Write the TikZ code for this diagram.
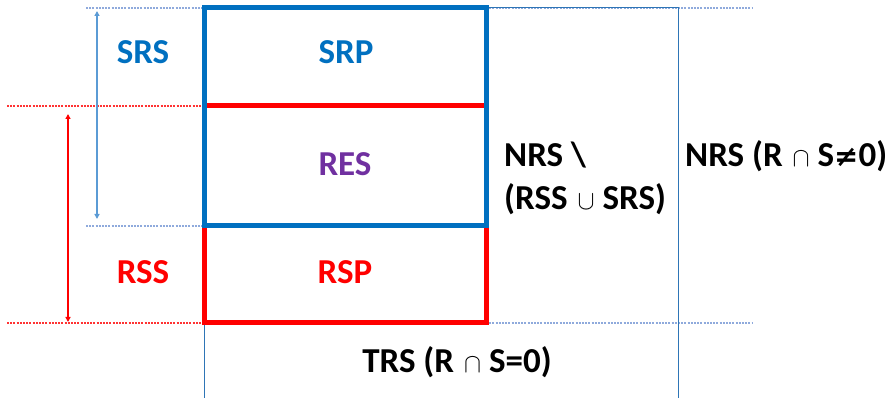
\documentclass[tikz,border=0pt]{standalone}
\usepackage{fontspec}
\usepackage{graphicx}
\setmainfont{Carlito}
\newfontfamily\symf{DejaVu Sans}
\usetikzlibrary{arrows.meta}
\definecolor{cblue}{HTML}{0070C0}
\definecolor{cred}{HTML}{FF0000}
\definecolor{cpurple}{HTML}{7030A0}
\definecolor{lblue}{HTML}{5B9BD5}
\definecolor{dblue}{HTML}{8FAADC}
\definecolor{fblue}{HTML}{2E75B6}
\newcommand{\mycap}{\hspace{10pt}\resizebox{17pt}{15pt}{$\cap$}\hspace{8pt}}
\newcommand{\mycup}{\hspace{10pt}\resizebox{17pt}{15pt}{$\cup$}\hspace{8pt}}
\tikzset{
  thickbox/.style={line width=5pt},
  frame/.style={draw=fblue,line width=1pt},
  bdot/.style={draw=dblue,line width=1.4pt,dash pattern=on 2pt off 1.2pt},
  rdot/.style={draw=cred!80,line width=1.2pt,dash pattern=on 2pt off 1.2pt},
  dimarrow/.style={line width=1.4pt,{Triangle[length=5pt,width=5pt]}-{Triangle[length=5pt,width=5pt]}},
  lbl/.style={anchor=base,font=\bfseries\fontsize{35}{38}\selectfont,inner sep=0pt},
  lbll/.style={anchor=base west,font=\bfseries\fontsize{35}{38}\selectfont,inner sep=0pt}
}
\begin{document}
\begin{tikzpicture}[x=1pt,y=-1pt]
\useasboundingbox (0,0) rectangle (895,398);
% coordinates
\coordinate (TL) at (204,8);
\coordinate (TR) at (486,8);
\coordinate (ML) at (204,106);
\coordinate (MR) at (486,106);
\coordinate (BL) at (204,226);
\coordinate (BR) at (486,226);
\coordinate (RL) at (204,323);
\coordinate (RR) at (486,323);
\coordinate (FTR) at (678,8);
\coordinate (FBR) at (678,400);
\coordinate (FBL) at (204,400);
% dotted guide lines
\coordinate (d1) at (86,8);
\coordinate (d2) at (752,8);
\coordinate (d3) at (7,106);
\coordinate (d4) at (86,226);
\coordinate (d5) at (7,323);
\coordinate (d6) at (752,323);
\draw[bdot] (d1) -- (TL);
\draw[bdot] (TR) -- (d2);
\draw[rdot] (d3) -- (ML);
\draw[bdot] (d4) -- (BL);
\draw[rdot] (d5) -- (RL);
\draw[bdot] (RR) -- (d6);
% thin frame
\draw[frame] (FBL) -- (RL);
\draw[frame] (TR) -- (FTR) -- (FBR);
% thick boxes
\draw[thickbox,draw=cred] (BL) -- (RL) -- (RR) -- (BR);
\draw[thickbox,draw=cred] (ML) -- (MR);
\draw[thickbox,draw=cblue] (TL) rectangle (BR);
% arrows
\coordinate (a1) at (97,11);
\coordinate (a2) at (97,219);
\coordinate (a3) at (68,114);
\coordinate (a4) at (68,322);
\draw[dimarrow,lblue] (a1) -- (a2);
\draw[dimarrow,cred] (a3) -- (a4);
% labels
\node[lbl,text=cblue] (srs) at (143,64) {SRS};
\node[lbl,text=cblue] (srp) at (346,64) {SRP};
\node[lbl,text=cpurple] (res) at (345,176) {RES};
\node[lbl,text=cred] (rss) at (143,284) {RSS};
\node[lbl,text=cred] (rsp) at (345,284) {RSP};
\node[lbll] (nrs1) at (504,167) {NRS \textbackslash};
\node[lbll] (nrs2) at (504,210) {(RSS\mycup SRS)};
\node[lbll] (nrs3) at (685,167) {NRS (R\mycap S{\symf\fontsize{29}{30}\selectfont ≠}0)};
\node[lbl] (trs) at (457,373) {TRS (R\mycap S=0)};
\end{tikzpicture}
\end{document}
